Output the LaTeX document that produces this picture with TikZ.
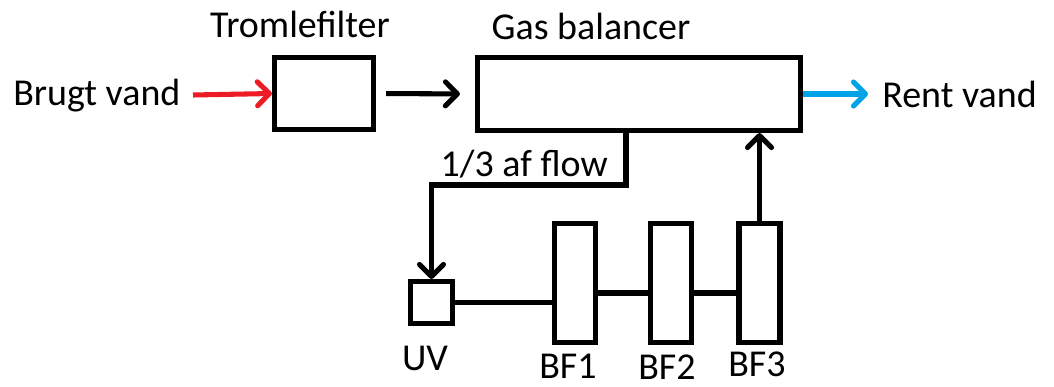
\documentclass[tikz,border=0pt]{standalone}
\usepackage{fontspec}
\setmainfont{Carlito}
\usepackage{tikz}
\usetikzlibrary{arrows.meta,positioning}
\definecolor{dirty}{RGB}{237,28,36}
\definecolor{clean}{RGB}{0,162,232}

\begin{document}
\begin{tikzpicture}[
  x=0.025cm,y=-0.025cm,
  unit/.style={rectangle,draw=black,line width=3.6pt,inner sep=0pt},
  txt/.style={inner sep=0pt,font=\fontsize{27}{32}\selectfont},
  arr/.style={-{Straight Barb[length=0.3cm,width=0.6cm,round]},line width=3.6pt},
  pipe/.style={line width=3.6pt}
]
  \useasboundingbox (0,0) rectangle (1054,387);

  \node[unit,minimum width=2.475cm,minimum height=1.8cm] (trom) at (324,93.5) {};
  \node[unit,minimum width=8.075cm,minimum height=1.825cm] (gas) at (639,94) {};
  \node[unit,minimum width=1.05cm,minimum height=1.05cm] (uv) at (431.5,302.5) {};
  \node[unit,minimum width=1.025cm,minimum height=2.975cm] (bf1) at (575,283) {};
  \node[unit,minimum width=1.025cm,minimum height=2.975cm] (bf2) at (671,283) {};
  \node[unit,minimum width=1.025cm,minimum height=2.975cm] (bf3) at (759.5,283) {};

% ---------------- labels ----------------
  \node[txt,anchor=base west] (inlbl)  at (13,106)  {Brugt vand};
  \node[txt,anchor=base]      (tromlbl) at (300,38) {Tromlefilter};
  \node[txt,anchor=base]      (gaslbl) at (591,40)  {Gas balancer};
  \node[txt,anchor=base west] (outlbl) at (882,108) {Rent vand};
  \node[txt,anchor=base east] (bylbl)  at (608,177) {1/3 af flow};
  \node[txt,anchor=base]      (uvlbl)  at (425,370) {UV};
  \node[txt,anchor=base]      (bf1lbl) at (568,378) {BF1};
  \node[txt,anchor=base]      (bf2lbl) at (667,379) {BF2};
  \node[txt,anchor=base]      (bf3lbl) at (757,376) {BF3};

  \coordinate (src)   at (193,95);
  \coordinate (sink)  at (868,94);
  \coordinate (split) at (626,185);

  \draw[arr,dirty] (src)--(trom.west);
  \draw[arr,shorten <=0.25cm,shorten >=0.375cm] (trom.east)--(gas.west);
  \draw[arr,clean] (gas.east)--(sink);
  \draw[arr] (gas.south -| split)--(split) -| (uv.north);
  \draw[pipe] (uv.east)--(uv.east -| bf1.west);
  \draw[pipe] ([yshift=-0.25cm]bf1.east)--([yshift=-0.25cm]bf2.west);
  \draw[pipe] ([yshift=-0.25cm]bf2.east)--([yshift=-0.25cm]bf3.west);
  \draw[arr] (bf3.north)--(bf3.north |- gas.south);
\end{tikzpicture}
\end{document}
